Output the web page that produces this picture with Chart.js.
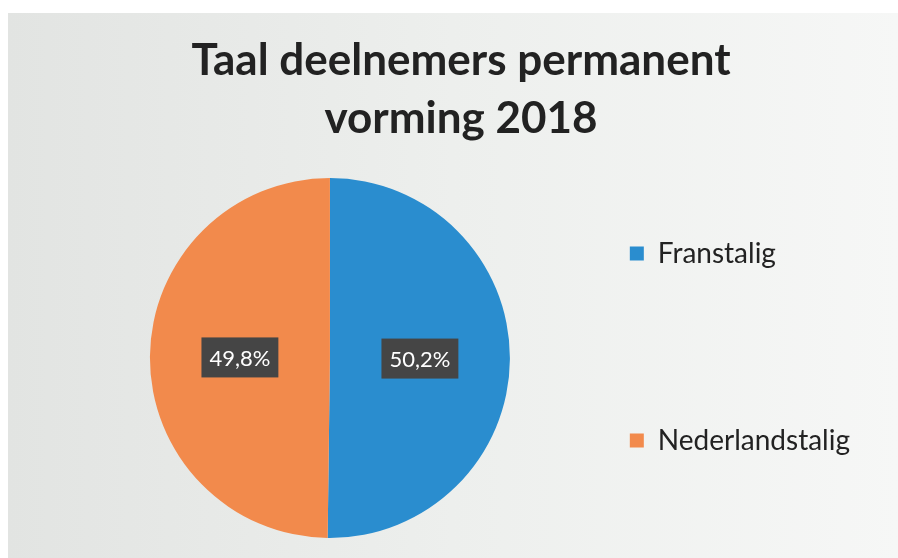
<!DOCTYPE html>
<html>
<head>
<meta charset="utf-8">
<script src="https://cdn.jsdelivr.net/npm/chart.js@4/dist/chart.umd.min.js"></script>
<style>
html,body{margin:0;padding:0;background:#fff;}
#wrap{width:898px;height:558px;position:relative;}
</style>
</head>
<body>
<div id="wrap"><canvas id="c" width="898" height="558"></canvas></div>
<script>
const titleLines = ['Taal deelnemers permanent', 'vorming 2018'];
const categories = ['Franstalig', 'Nederlandstalig'];
const shares = [50.2, 49.8];
const valueLabels = ['50,2%', '49,8%'];
const sliceColors = ['#2a8dcf', '#f28a4c'];

const bgPlugin = {
  id: 'bg',
  beforeDraw(chart) {
    const ctx = chart.ctx;
    ctx.save();
    ctx.fillStyle = '#ffffff';
    ctx.fillRect(0, 0, chart.width, chart.height);
    const g = ctx.createLinearGradient(8, 0, chart.width, 0);
    g.addColorStop(0, '#e2e4e2');
    g.addColorStop(0.5, '#edefed');
    g.addColorStop(1, '#f6f7f6');
    ctx.fillStyle = g;
    ctx.fillRect(8, 13, chart.width - 8, chart.height - 13);
    ctx.restore();
  }
};

const boxLabels = {
  id: 'boxLabels',
  afterDatasetsDraw(chart) {
    const ctx = chart.ctx;
    const meta = chart.getDatasetMeta(0);
    ctx.save();
    ctx.font = 'normal 22px Lato';
    ctx.textAlign = 'center';
    ctx.textBaseline = 'middle';
    meta.data.forEach((arc, i) => {
      const p = arc.tooltipPosition();
      const txt = valueLabels[i];
      const w = ctx.measureText(txt).width + 16;
      const h = 40;
      ctx.fillStyle = '#454545';
      ctx.fillRect(p.x - w / 2, p.y - h / 2, w, h);
      ctx.fillStyle = '#ffffff';
      ctx.fillText(txt, p.x, p.y + 1);
    });
    ctx.restore();
  }
};

new Chart(document.getElementById('c'), {
  type: 'pie',
  data: {
    labels: categories,
    datasets: [{
      data: shares,
      backgroundColor: sliceColors,
      borderWidth: 0
    }]
  },
  options: {
    responsive: false,
    animation: false,
    layout: { padding: { left: 62, right: 38, top: 156, bottom: 20 } },
    plugins: {
      tooltip: { enabled: false },
      title: {
        display: true,
        text: titleLines,
        color: '#222222',
        font: { family: 'Lato', size: 44, weight: 'bold', lineHeight: '58px' },
        padding: { top: -124, bottom: 30 }
      },
      legend: {
        position: 'right',
        align: 'center',
        maxWidth: 264,
        labels: {
          color: '#222222',
          font: { family: 'Lato', size: 28, lineHeight: '155px' },
          boxWidth: 14,
          boxHeight: 14,
          padding: 32,
          generateLabels(chart) {
            const items = Chart.overrides.pie.plugins.legend.labels.generateLabels(chart);
            items[0].text = [items[0].text];
            return items;
          }
        }
      }
    }
  },
  plugins: [bgPlugin, boxLabels]
});
</script>
</body>
</html>
